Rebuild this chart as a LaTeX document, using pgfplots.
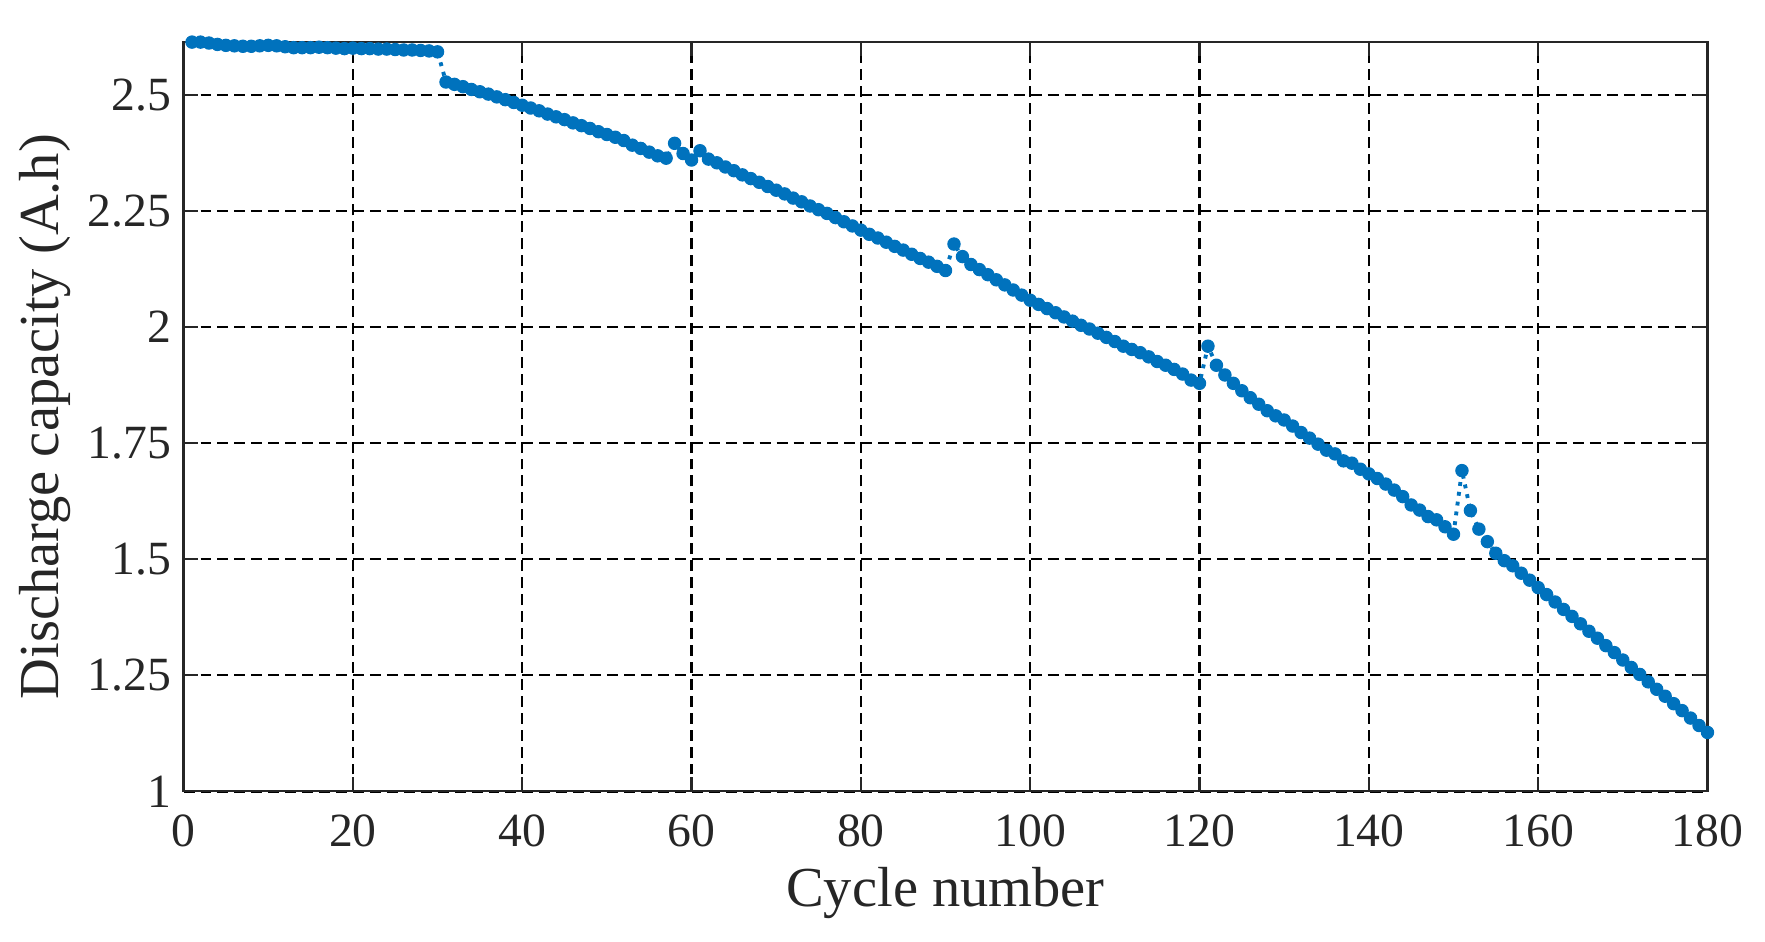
\documentclass[border=0pt]{standalone}
\usepackage{fontspec}
\setmainfont{Liberation Serif}
\usepackage{pgfplots}
\pgfplotsset{compat=1.18}
\definecolor{mblue}{RGB}{0,114,189}
\definecolor{axgray}{RGB}{38,38,38}
\begin{document}
\begin{tikzpicture}
\path[use as bounding box] (-52.0pt,-42.4pt) rectangle (448.0pt,224.2pt);
\begin{axis}[
  anchor=south west, at={(0,0)},
  scale only axis, width=431.7pt, height=212.4pt,
  xmin=0, xmax=180, ymin=1, ymax=2.615,
  xtick={0,20,...,180},
  ytick={1,1.25,1.5,1.75,2,2.25,2.5},
  yticklabels={1,1.25,1.5,1.75,2,2.25,2.5},
  /pgf/number format/assume math mode=true,
  tick align=inside, major tick length=4.2pt,
  axis line style={axgray, line width=0.6pt},
  every tick/.style={axgray, line width=0.6pt},
  grid=major,
  major grid style={black, line width=0.65pt, dash pattern=on 3.1pt off 1.7pt},
  ticklabel style={font=\fontsize{13.5}{16}\selectfont, text=axgray},
  xticklabel style={yshift=-3.2pt},
  label style={font=\fontsize{16}{19}\selectfont, text=axgray},
  xlabel={Cycle number},
  ylabel={Discharge capacity (A.h)},
  xlabel style={at={(axis description cs:0.5,0)}, anchor=base, yshift=-32.6pt},
  ylabel style={at={(axis description cs:-0.0908,0.5)}, anchor=center},
  clip=false,
]
\addplot[mblue, line width=1.1pt, dash pattern=on 1.1pt off 1.7pt,
  mark=*, mark size=1.75pt, mark options={solid, fill=mblue, draw=mblue, line width=0.3pt}]
table {
x y
1 2.614
2 2.614
3 2.612
4 2.609
5 2.607
6 2.606
7 2.605
8 2.605
9 2.606
10 2.607
11 2.606
12 2.604
13 2.602
14 2.602
15 2.602
16 2.603
17 2.602
18 2.601
19 2.600
20 2.601
21 2.600
22 2.600
23 2.599
24 2.599
25 2.598
26 2.597
27 2.597
28 2.596
29 2.595
30 2.593
31 2.528
32 2.523
33 2.518
34 2.512
35 2.507
36 2.502
37 2.496
38 2.490
39 2.484
40 2.478
41 2.472
42 2.466
43 2.459
44 2.453
45 2.447
46 2.440
47 2.434
48 2.428
49 2.421
50 2.415
51 2.409
52 2.402
53 2.392
54 2.385
55 2.377
56 2.369
57 2.364
58 2.396
59 2.374
60 2.360
61 2.380
62 2.362
63 2.354
64 2.345
65 2.337
66 2.328
67 2.320
68 2.312
69 2.303
70 2.295
71 2.287
72 2.278
73 2.270
74 2.261
75 2.253
76 2.245
77 2.236
78 2.227
79 2.218
80 2.209
81 2.200
82 2.192
83 2.183
84 2.174
85 2.166
86 2.157
87 2.148
88 2.140
89 2.131
90 2.122
91 2.179
92 2.152
93 2.135
94 2.124
95 2.113
96 2.102
97 2.091
98 2.080
99 2.069
100 2.058
101 2.049
102 2.040
103 2.031
104 2.022
105 2.013
106 2.004
107 1.996
108 1.987
109 1.978
110 1.969
111 1.959
112 1.952
113 1.945
114 1.936
115 1.926
116 1.918
117 1.909
118 1.899
119 1.886
120 1.879
121 1.959
122 1.918
123 1.897
124 1.879
125 1.863
126 1.848
127 1.834
128 1.820
129 1.809
130 1.800
131 1.787
132 1.773
133 1.761
134 1.748
135 1.735
136 1.727
137 1.712
138 1.707
139 1.694
140 1.684
141 1.674
142 1.662
143 1.649
144 1.635
145 1.617
146 1.606
147 1.592
148 1.585
149 1.570
150 1.554
151 1.691
152 1.605
153 1.565
154 1.538
155 1.513
156 1.497
157 1.486
158 1.470
159 1.455
160 1.439
161 1.424
162 1.408
163 1.392
164 1.377
165 1.361
166 1.345
167 1.330
168 1.314
169 1.299
170 1.283
171 1.267
172 1.252
173 1.236
174 1.220
175 1.205
176 1.189
177 1.174
178 1.158
179 1.142
180 1.127
};
\end{axis}
\end{tikzpicture}
\end{document}
